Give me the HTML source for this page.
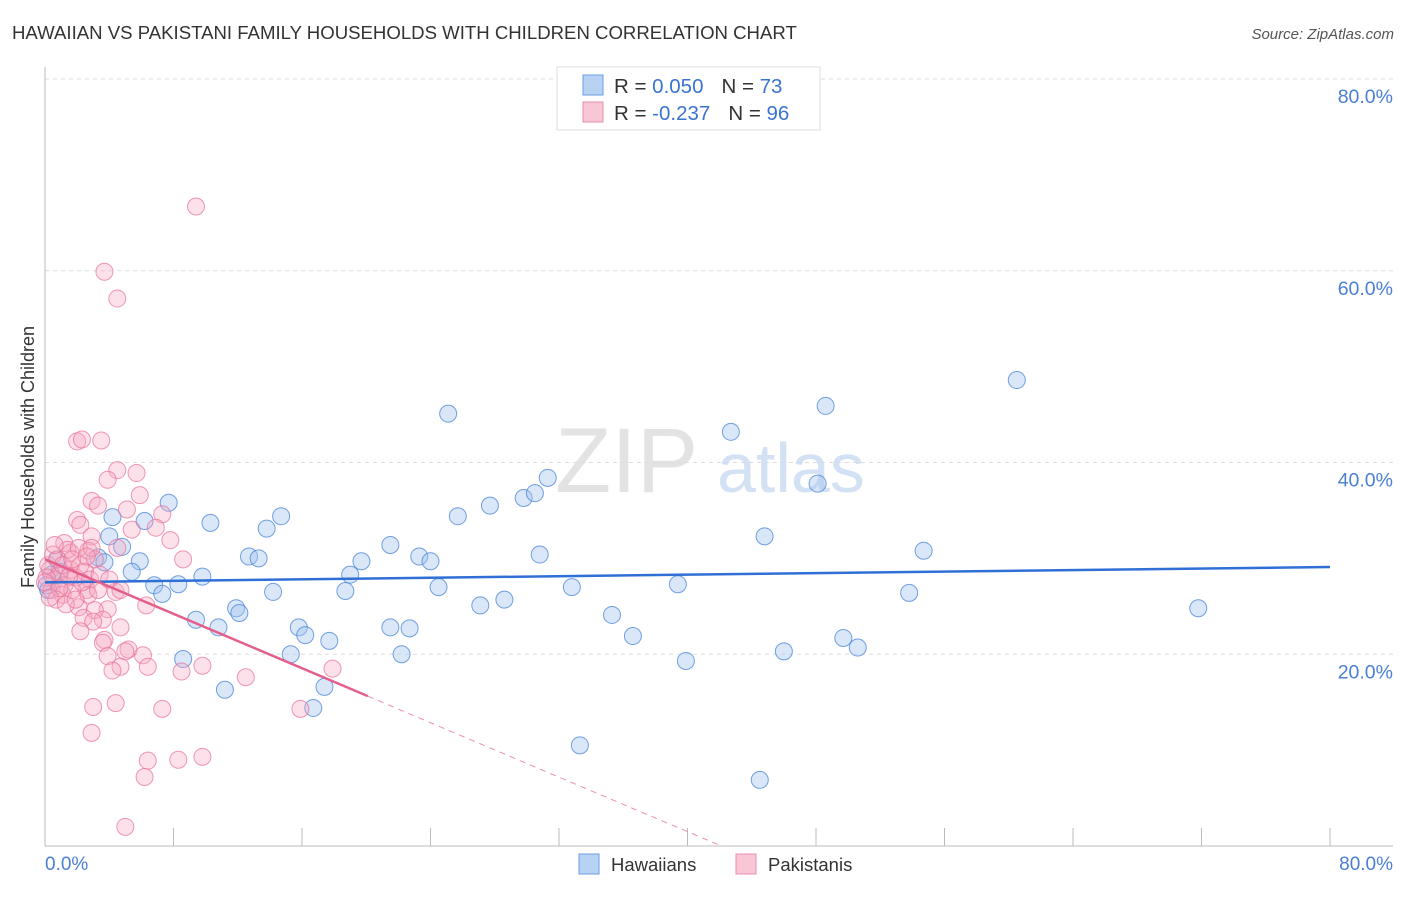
<!DOCTYPE html>
<html><head><meta charset="utf-8">
<style>
body{margin:0;background:#fff;font-family:"Liberation Sans",sans-serif;}
svg text{font-family:"Liberation Sans",sans-serif;}
</style></head>
<body>
<svg id="chart" width="1406" height="892" xmlns="http://www.w3.org/2000/svg">
<text x="12" y="39" font-size="18.6" fill="#333">HAWAIIAN VS PAKISTANI FAMILY HOUSEHOLDS WITH CHILDREN CORRELATION CHART</text>
<text x="1394" y="39" font-size="15" fill="#555" text-anchor="end" font-style="italic">Source: ZipAtlas.com</text>
<g id="grid"></g>
<text x="555" y="492" font-size="92" fill="#ddd" font-family="Liberation Serif" opacity="0.8">ZIP</text>
<text x="717" y="492" font-size="70" fill="#c8daf2" opacity="0.8">atlas</text>
<g id="pts"></g>
<g id="lines"></g>
<text transform="translate(34,457) rotate(-90)" font-size="18" fill="#333" text-anchor="middle">Family Households with Children</text>
<text x="45" y="870" font-size="19" fill="#4a7fd4">0.0%</text>
<text x="1393" y="870" font-size="19" fill="#4a7fd4" text-anchor="end">80.0%</text>
<g>
<rect x="557" y="67" width="263" height="63" fill="#fff" stroke="#ddd"/>
<rect x="583" y="75" width="20" height="20" fill="#b8d2f4" stroke="#6a9ee0"/>
<rect x="583" y="102" width="20" height="20" fill="#f9c6d6" stroke="#ea8fae"/>
<text x="614" y="93" font-size="20.5" fill="#333">R = <tspan fill="#3a74d0">0.050</tspan><tspan dx="18">N = </tspan><tspan fill="#3a74d0">73</tspan></text>
<text x="614" y="120" font-size="20.5" fill="#333">R = <tspan fill="#3a74d0">-0.237</tspan><tspan dx="18">N = </tspan><tspan fill="#3a74d0">96</tspan></text>
</g>
<g>
<rect x="579" y="854" width="20" height="20" fill="#b8d2f4" stroke="#6a9ee0"/>
<text x="611" y="871" font-size="18.5" fill="#333">Hawaiians</text>
<rect x="736" y="854" width="20" height="20" fill="#f9c6d6" stroke="#ea8fae"/>
<text x="768" y="871" font-size="18.5" fill="#333">Pakistanis</text>
</g>
</svg>
<script>
const yTicks=[20,40,60,80];
const yTickLabels=["20.0%","40.0%","60.0%","80.0%"];
const xTicks=[0,8,16,24,32,40,48,56,64,72,80];
const hawX=[0.75,0.4,4.2,4.8,3.3,3.7,4.0,5.9,6.2,7.7,5.4,6.8,7.3,8.3,9.8,10.3,9.4,10.8,11.9,12.1,8.6,11.2,12.7,13.3,13.8,14.7,14.2,15.3,15.8,16.2,17.7,16.7,17.4,18.7,19.0,19.7,21.5,21.5,22.7,22.2,23.3,24.0,24.5,25.1,25.7,27.1,27.7,28.6,29.8,30.5,31.3,30.8,32.8,33.3,35.3,36.6,39.4,39.9,42.7,44.8,46.0,44.5,48.1,48.6,49.7,50.6,53.8,54.7,60.5,71.8,0.1,0.2,0.9];
const hawY=[29.9,28.3,34.3,31.2,30.1,29.6,32.3,29.7,33.9,35.8,28.6,27.2,26.3,27.3,28.1,33.7,23.6,22.8,24.8,24.3,19.5,16.3,30.2,30.0,33.1,34.4,26.5,20.0,22.8,22.0,21.4,14.4,16.6,26.6,28.3,29.7,31.4,22.8,22.7,20.0,30.2,29.7,27.0,45.1,34.4,25.1,35.5,25.7,36.3,36.8,38.4,30.4,27.0,10.5,24.1,21.9,27.3,19.3,43.2,32.3,20.3,6.9,37.8,45.9,21.7,20.7,26.4,30.8,48.6,24.8,27.2,26.7,28.6];
const pakX=[2.0,2.3,3.5,4.5,3.9,5.7,5.9,2.9,3.3,5.1,7.3,2.0,2.2,5.4,6.9,2.9,7.8,1.2,4.5,2.7,8.6,1.6,2.6,4.4,6.3,2.1,3.9,3.1,2.4,3.6,3.0,4.7,2.2,3.7,3.6,5.2,5.0,6.1,3.9,4.7,4.2,6.4,8.5,9.8,12.5,17.9,15.9,3.0,4.4,7.3,2.9,6.4,6.2,8.3,9.8,5.0,9.4,3.7,4.5,0.3,0.6,0.2,0.9,1.2,0.4,0.8,1.6,1.9,1.1,1.4,2.2,2.5,2.8,1.7,0.1,0.5,0.7,1.1,2.1,3.1,3.4,2.7,1.3,0.6,1.7,2.3,2.9,0.0,0.9,1.9,0.3,2.6,3.3,1.5,4.0,4.7];
const pakY=[42.2,42.4,42.3,39.2,38.2,38.9,36.6,36.0,35.5,35.1,34.6,34.0,33.5,33.0,33.2,32.3,31.9,31.6,31.1,30.8,29.9,30.6,26.7,26.5,25.1,24.9,24.7,24.6,23.8,23.6,23.4,22.8,22.4,21.5,21.2,20.5,20.3,19.9,19.8,18.7,18.3,18.7,18.2,18.8,17.6,18.5,14.3,14.5,14.9,14.3,11.8,8.9,7.2,9.0,9.3,2.0,66.7,59.9,57.1,28.8,27.8,29.3,28.3,27.2,26.7,29.9,28.8,28.0,26.2,30.9,29.3,28.6,27.8,26.7,28.0,30.4,25.7,29.3,31.1,29.9,28.3,26.2,25.2,31.4,29.9,27.5,31.1,27.5,26.9,25.7,25.9,30.2,26.7,28.1,27.8,26.7];
const hawTrend=[27.5,0.02];   // intercept, slope
const pakTrend=[29.9,-0.71];
const pakSolidEnd=20.1;

const X0=45,X1=1330,Y0=846,Y80=79;
const sx=v=>X0+(X1-X0)*v/80;
const sy=v=>Y0-(Y0-Y80)*v/80;
const NS="http://www.w3.org/2000/svg";
function mk(tag,attrs,parent){const e=document.createElementNS(NS,tag);for(const k in attrs)e.setAttribute(k,attrs[k]);parent.appendChild(e);return e;}
const grid=document.getElementById('grid');
yTicks.forEach((t,i)=>{
  const l=mk('line',{x1:X0,x2:1393,y1:sy(t),y2:sy(t),stroke:'#ddd','stroke-dasharray':'4,4'},grid);
  
  
  const tx=mk('text',{x:1393,y:sy(t)+24,'font-size':19.5,fill:'#4a7fd4','text-anchor':'end'},grid);
  tx.textContent=yTickLabels[i];
  
  
});
const ax=mk('line',{x1:X0,x2:X0,y1:67,y2:Y0,stroke:'#bbb'},grid);


const bx=mk('line',{x1:X0,x2:1393,y1:Y0,y2:Y0,stroke:'#bbb'},grid);


xTicks.forEach(t=>{
  const l=mk('line',{x1:sx(t),x2:sx(t),y1:Y0,y2:Y0-18,stroke:'#bbb'},grid);
  
  
});
const pts=document.getElementById('pts');
hawX.forEach((x,i)=>{
  const c=mk('circle',{cx:sx(x),cy:sy(hawY[i]),r:8.5,fill:'rgba(160,196,240,0.4)',stroke:'rgba(70,130,215,0.75)','stroke-width':1},pts);
  
  
});
pakX.forEach((x,i)=>{
  const c=mk('circle',{cx:sx(x),cy:sy(pakY[i]),r:8.5,fill:'rgba(246,170,195,0.35)',stroke:'rgba(232,110,150,0.7)','stroke-width':1},pts);
  
  
});
const lines=document.getElementById('lines');
const hb=mk('line',{x1:sx(0),y1:sy(hawTrend[0]),x2:sx(80),y2:sy(hawTrend[0]+hawTrend[1]*80),stroke:'#2f6fd6','stroke-width':2.5},lines);


const pe=pakTrend[0]+pakTrend[1]*pakSolidEnd;
const ps=mk('line',{x1:sx(0),y1:sy(pakTrend[0]),x2:sx(pakSolidEnd),y2:sy(pe),stroke:'#e4608c','stroke-width':2.5},lines);


const zx=-pakTrend[0]/pakTrend[1];
const pd=mk('line',{x1:sx(pakSolidEnd),y1:sy(pe),x2:sx(zx),y2:sy(0),stroke:'#e4608c','stroke-width':1,'stroke-dasharray':'6,5',opacity:0.7},lines);


</script>
</body></html>
